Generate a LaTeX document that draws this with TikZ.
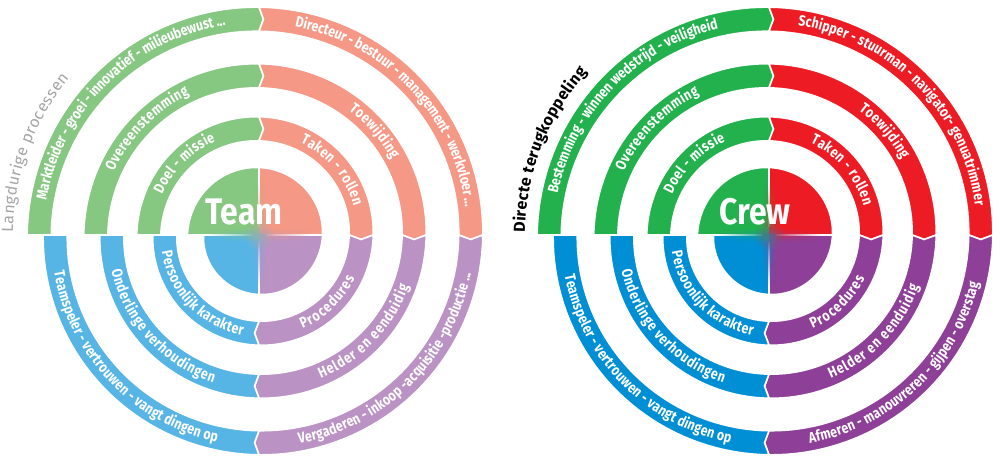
\documentclass[tikz,border=0pt]{standalone}
\usepackage{fontspec}
\setmainfont{Fira Sans}
\newfontfamily\ringfam{Fira Sans}[FakeStretch=0.82]
\newfontfamily\teamfam{Fira Sans}[FakeStretch=0.86]
\newfontfamily\labfam{Fira Sans}
\usetikzlibrary{decorations.text,fadings}
\definecolor{lg}{RGB}{134,199,129}
\definecolor{lr}{RGB}{245,152,134}
\definecolor{lp}{RGB}{186,146,196}
\definecolor{lb}{RGB}{87,181,230}
\definecolor{dg}{RGB}{34,177,76}
\definecolor{dr}{RGB}{237,28,36}
\definecolor{dp}{RGB}{142,63,151}
\definecolor{db}{RGB}{0,143,213}
\definecolor{labgray}{RGB}{165,165,168}
\colorlet{lm1}{lg!50!lr}\colorlet{lm2}{lp!50!lb}\colorlet{lmix}{lm1!50!lm2}
\colorlet{dm1}{dg!50!dr}\colorlet{dm2}{dp!50!db}\colorlet{dmix}{dm1!50!dm2}
\tikzfading[name=blob, inner color=transparent!30, outer color=transparent!100]
\newcommand\ringfont{\ringfam\bfseries\fontsize{15bp}{17bp}\selectfont}
\newcommand\teamfont{\teamfam\bfseries\fontsize{37bp}{40bp}\selectfont}
\newcommand\labfont{\labfam\fontsize{16bp}{18bp}\selectfont}
\newcommand\labboldfont{\labfam\bfseries\fontsize{16bp}{18bp}\selectfont}
\tikzset{
  bandpiece/.style={draw=white,line width=1.6bp,line join=miter},
  ringlabel/.style 2 args={decorate,decoration={text along path,text color=white,
      text align=center,raise=-4bp,text={|\ringfont\kern#1bp|#2}}}
}
% #1 colour, #2 base mid radius, #3 start angle, #4 end angle, #5 notch at start, #6 point at end
\newcommand\spiralpiece[6]{%
  \pgfmathsetmacro\rmS{#2-16*(180-(#3))/360}%
  \pgfmathsetmacro\rmE{#2-16*(180-(#4))/360}%
  \pgfmathsetmacro\dS{(#5)*4.5/\rmS*57.2958}%
  \pgfmathsetmacro\dE{(#6)*4.5/\rmE*57.2958}%
  \pgfmathsetmacro\aS{(#3)-\dS}%
  \pgfmathsetmacro\aE{(#4)-\dE}%
  \filldraw[bandpiece,fill=#1]
    plot[domain=#3:#4,samples=40,variable=\t] ({\t}:{#2+12.05-16*(180-(\t))/360})
    -- (\aE:\rmE)
    -- plot[domain=#4:#3,samples=40,variable=\t] ({\t}:{#2-12.05-16*(180-(\t))/360})
    -- (\aS:\rmS) -- cycle;
}
\newcommand\spiralset[5]{%
  \foreach \b in {219.8,163.2,110.2}{%
    \spiralpiece{#1}{\b}{180}{90}{0}{1}%
    \spiralpiece{#2}{\b}{90}{0}{1}{1}%
    \spiralpiece{#3}{\b}{0}{-90}{1}{1}%
    \spiralpiece{#4}{\b}{-90}{-180}{1}{0}%
  }%
  \foreach \c/\a/\e in {#1/180/90,#2/90/0,#3/0/-90,#4/-90/-180}{%
    \filldraw[bandpiece,fill=\c] (0,0) -- plot[domain=\a:\e,samples=40,variable=\t] ({\t}:{71.5-16*(180-(\t))/360}) -- cycle;
  }%
  \shade[left color=#1,right color=#2,path fading=north] (-7,0) rectangle (7,52);
  \shade[top color=#2,bottom color=#3,path fading=east] (0,-7) rectangle (52,7);
  \shade[left color=#4,right color=#3,path fading=south] (-7,-52) rectangle (7,0);
  \shade[top color=#1,bottom color=#4,path fading=west] (-52,-7) rectangle (0,7);
  \fill[#5,path fading=blob] (0,0) circle (16);
}
% #1 letter kern, #2 base radius, #3 start angle, #4 end angle, #5 text
\newcommand\ringtext[5][0.8]{%
  \pgfmathsetmacro\tA{(#3)+((#3)>(#4)?6:-6)}%
  \pgfmathsetmacro\tB{(#4)+((#3)>(#4)?-6:6)}%
  \path[ringlabel={#1}{#5}] plot[domain=\tA:\tB,samples=60,variable=\t] ({\t}:{#2-16*(180-(\t))/360});
}
\begin{document}
\begin{tikzpicture}[x=1bp,y=1bp]
\useasboundingbox (0,0) rectangle (1000,461);
% ---------------- left: Team ----------------
\begin{scope}[shift={(259,226)}]
  \spiralset{lg}{lr}{lp}{lb}{lmix}
  \ringtext[0]{219.8}{178}{91.5}{Marktleider - groei - innovatief - milieubewust ...}
  \ringtext[0]{219.8}{86.5}{1}{Directeur - bestuur - management - werkvloer ...}
  \ringtext[0]{219.8}{-86}{-3.5}{Vergaderen - inkoop -acquisitie -productie ...}
  \ringtext[0.05]{219.8}{-174.5}{-97}{Teamspeler - vertrouwen - vangt dingen op}
  \ringtext[0.7]{163.2}{159}{114}{Overeenstemming}
  \ringtext[0.7]{163.2}{57}{27}{Toewijding}
  \ringtext[0.8]{163.2}{-71}{-15}{Helder en eenduidig}
  \ringtext[0.5]{163.2}{-171}{-103}{Onderlinge verhoudingen}
  \ringtext[0.6]{110.2}{159}{113}{Doel - missie}
  \ringtext[0.8]{110.2}{66}{17}{Taken - rollen}
  \ringtext[0.8]{110.2}{-68}{-22}{Procedures}
  \ringtext[0.2]{110.2}{-175}{-95}{Persoonlijk karakter}
  \node[anchor=base,text=white,font=\teamfont,inner sep=0pt] (team) at (-15,10) {Team};
  \path[decorate,decoration={text along path,text color=labgray,text align=left,
      text={|\labfont\kern0.4bp|Langdurige processen}}]
      (179.5:246) arc[start angle=179.5,end angle=125,radius=246];
\end{scope}
% ---------------- right: Crew ----------------
\begin{scope}[shift={(769,226)}]
  \spiralset{dg}{dr}{dp}{db}{dmix}
  \ringtext[0.1]{219.8}{174.5}{98}{Bestemming - winnen wedstrijd - veiligheid}
  \ringtext[0.2]{219.8}{87}{3}{Schipper - stuurman - navigator- genuatrimmer}
  \ringtext[0.05]{219.8}{-84}{-8}{Afmeren - manouvreren - gijpen - overstag}
  \ringtext[0.05]{219.8}{-174.5}{-95}{Teamspeler - vertrouwen - vangt dingen op}
  \ringtext[0.7]{163.2}{159}{114}{Overeenstemming}
  \ringtext[0.7]{163.2}{57}{27}{Toewijding}
  \ringtext[0.8]{163.2}{-71}{-15}{Helder en eenduidig}
  \ringtext[0.5]{163.2}{-171}{-103}{Onderlinge verhoudingen}
  \ringtext[0.6]{110.2}{159}{113}{Doel - missie}
  \ringtext[0.8]{110.2}{66}{17}{Taken - rollen}
  \ringtext[0.8]{110.2}{-68}{-22}{Procedures}
  \ringtext[0.2]{110.2}{-175}{-95}{Persoonlijk karakter}
  \node[anchor=base,text=white,font=\teamfont,inner sep=0pt] (crew) at (-14,10) {Crew};
  \path[decorate,decoration={text along path,text color=black,text align=left,
      text={|\labboldfont\kern0.3bp|Directe terugkoppeling}}]
      (179.5:244) arc[start angle=179.5,end angle=125,radius=244];
\end{scope}
\end{tikzpicture}
\end{document}
